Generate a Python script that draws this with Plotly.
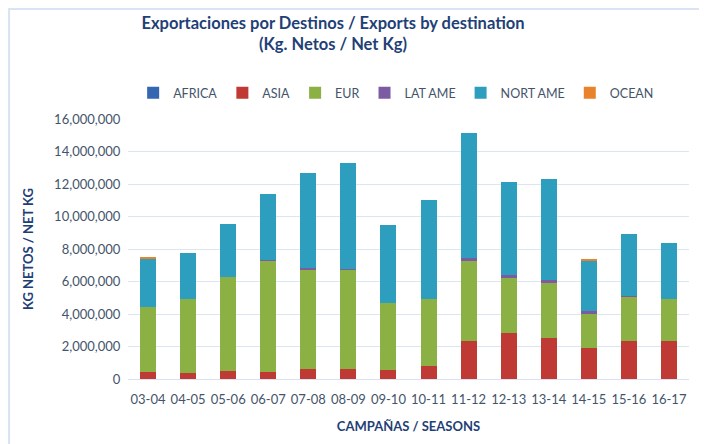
import plotly.graph_objects as go

# seasons on the x axis
seasons = ["03-04", "04-05", "05-06", "06-07", "07-08", "08-09", "09-10",
           "10-11", "11-12", "12-13", "13-14", "14-15", "15-16", "16-17"]

# net kg per destination
africa = [0, 0, 0, 0, 0, 0, 0, 0, 0, 0, 0, 0, 0, 0]
asia = [410000, 370000, 470000, 410000, 610000, 610000, 570000,
        800000, 2320000, 2830000, 2500000, 1880000, 2320000, 2320000]
eur = [4040000, 4570000, 5830000, 6870000, 6140000, 6140000, 4080000,
       4140000, 4920000, 3400000, 3410000, 2180000, 2730000, 2600000]
lat_ame = [0, 0, 0, 60000, 100000, 50000, 0, 0, 180000, 150000, 160000, 100000, 30000, 0]
nort_ame = [2950000, 2830000, 3260000, 4020000, 5850000, 6470000, 4800000,
            6050000, 7720000, 5760000, 6260000, 3140000, 3840000, 3430000]
ocean = [80000, 0, 0, 0, 0, 0, 0, 0, 0, 0, 0, 60000, 0, 0]

series = [
    ("AFRICA", africa, "#3466B2"),
    ("ASIA", asia, "#BF3A35"),
    ("EUR", eur, "#8BB043"),
    ("LAT AME", lat_ame, "#7D5BA3"),
    ("NORT AME", nort_ame, "#2E9EBF"),
    ("OCEAN", ocean, "#E8832C"),
]

FONT = "Lato, 'Open Sans', sans-serif"
DARK = "#1F3F77"
GREY = "#44546A"

fig = go.Figure()
for name, vals, color in series:
    fig.add_trace(go.Bar(
        x=seasons, y=vals, name=name,
        marker=dict(color=color, line=dict(width=0)),
    ))

# light border round the chart area (page body adds an 8px offset)
fig.add_shape(type="rect", xref="paper", yref="paper",
              x0=-0.212, x1=1.05, y0=-0.3, y1=1.423,
              line=dict(color="#DAE3F3", width=2), fillcolor="rgba(0,0,0,0)", layer="below")

fig.update_layout(
    width=699, height=436,
    barmode="stack", bargap=0.6,
    plot_bgcolor="white", paper_bgcolor="white",
    margin=dict(l=120, r=18, t=111, b=65),
    font=dict(family=FONT, color=GREY, size=13),
    title=dict(
        text="Exportaciones por Destinos / Exports by destination<br>(Kg. Netos / Net Kg)",
        x=0.465, xanchor="center", y=0.952, yanchor="top",
        font=dict(family=FONT, size=16.5, color=DARK, weight="bold"),
    ),
    legend=dict(
        orientation="h", x=0.478, xanchor="center",
        y=1.1, yanchor="middle",
        font=dict(size=12.5, color=GREY), traceorder="normal",
        itemwidth=30,
    ),
    xaxis=dict(
        type="category",
        showgrid=False, showline=True, linecolor="#D9E1F2", linewidth=1,
        ticks="", ticklabelstandoff=8, tickfont=dict(size=13, color=GREY),
        title=dict(text="CAMPAÑAS / SEASONS", standoff=16,
                   font=dict(size=13, color=DARK, weight="bold")),
    ),
    yaxis=dict(
        range=[0, 16000000], dtick=2000000, tickformat=",d",
        showgrid=True, gridcolor="#DCE5F2", gridwidth=1, zeroline=False,
        ticks="", ticksuffix="  ", tickfont=dict(size=13, color=GREY),
        title=dict(text="KG NETOS / NET KG", standoff=17,
                   font=dict(size=13, color=DARK, weight="bold")),
    ),
)

fig.write_html("out.html")
